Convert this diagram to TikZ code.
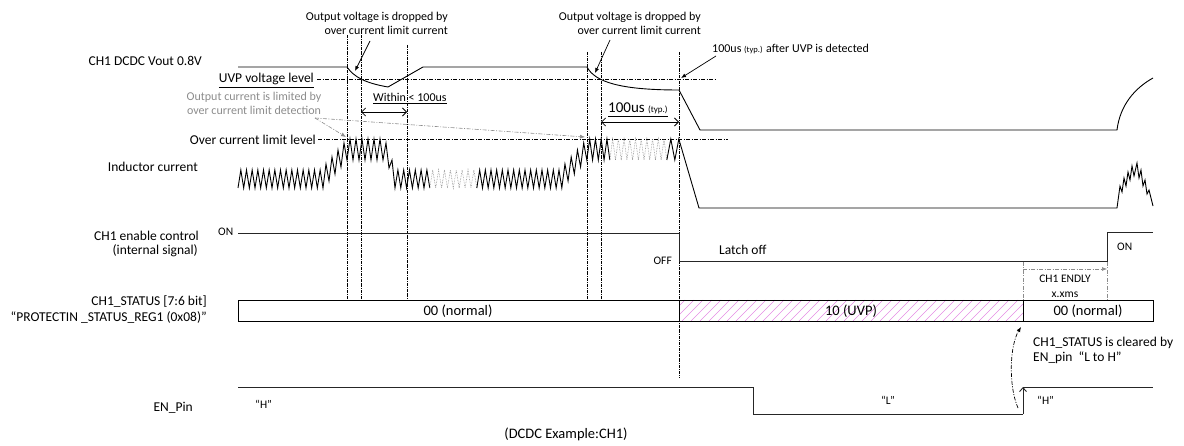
\documentclass[tikz,border=0pt]{standalone}
\usepackage{fontspec}
\setmainfont{Carlito}
\usetikzlibrary{arrows.meta}
\definecolor{hatchpink}{RGB}{228,140,228}
\tikzstyle{lbl} = [font=\fontsize{13.5}{16}\selectfont, inner sep=0pt]
\tikzstyle{notetxt} = [font=\fontsize{12}{14}\selectfont, inner sep=0pt]
\tikzstyle{tinytxt} = [font=\fontsize{11.5}{13}\selectfont, inner sep=0pt]
\tikzstyle{statustxt} = [font=\fontsize{14.5}{17}\selectfont, inner sep=0pt]
\tikzstyle{wave} = [draw, line width=0.9pt]
\tikzstyle{dimwave} = [draw=black!45, line width=0.6pt, densely dotted]
\tikzstyle{sig} = [draw, line width=0.9pt, black!85]
\tikzstyle{vguide} = [draw, line width=0.5pt, dash pattern=on 3pt off 1pt on 0.8pt off 1pt]
\tikzstyle{limitline} = [draw, line width=0.5pt, dash pattern=on 4pt off 1.5pt on 1pt off 1.5pt]
\tikzstyle{pointer} = [draw, line width=0.7pt, -{Latex[length=5pt,width=4pt]}]
\tikzstyle{spanarrow} = [draw, line width=0.8pt, {Straight Barb[length=4pt,width=8pt]}-{Straight Barb[length=4pt,width=8pt]}]
\tikzstyle{grayhint} = [draw=black!45, line width=0.6pt, dash pattern=on 4pt off 1.5pt on 1pt off 1.5pt, -{Latex[length=5pt,width=4pt]}]
\tikzstyle{graydd} = [draw=black!45, line width=0.6pt, dash pattern=on 4pt off 1.5pt on 1pt off 1.5pt]

\begin{document}
\begin{tikzpicture}[x=1pt, y=-1pt]
        \useasboundingbox (0,0) rectangle (1184,446);
        % Place nodes
        \node [lbl, anchor=base east] (vout) at (202,66) {CH1 DCDC Vout 0.8V};
        \node [lbl, anchor=base east] (uvp) at (314,83) {\underline{UVP voltage level}};
        \node [notetxt, black!45, anchor=base] (limA) at (254,101) {Output current is limited by};
        \node [notetxt, black!45, anchor=base] (limB) at (254,115) {over current limit detection};
        \node [lbl, anchor=base east] (ocl) at (316,145) {Over current limit level};
        \node [lbl, anchor=base east] (ind) at (198,172) {Inductor current};
        \node [lbl, anchor=base east] (enA) at (199,241) {CH1 enable control};
        \node [lbl, anchor=base east] (enB) at (198,255) {(internal signal)};
        \node [lbl, anchor=base east] (stA) at (207,306) {CH1\_STATUS [7:6 bit]};
        \node [lbl, anchor=base east] (stB) at (207,322) {“PROTECTIN \_STATUS\_REG1 (0x08)”};
        \node [lbl, anchor=base east] (pin) at (193,411) {EN\_Pin};
        \node [notetxt, anchor=base east] (dropA1) at (448,21) {Output voltage is dropped by};
        \node [notetxt, anchor=base east] (dropA2) at (448,35) {over current limit current};
        \node [notetxt, anchor=base east] (dropB1) at (701,21) {Output voltage is dropped by};
        \node [notetxt, anchor=base east] (dropB2) at (701,35) {over current limit current};
        \node [notetxt, anchor=base west] (uvpnote) at (712,53) {100us {\fontsize{8.5}{10}\selectfont (typ.)} after UVP is detected};
        \node [notetxt, anchor=base west] (within) at (373,102) {\underline{Within < 100us}};
        \node [anchor=base west, inner sep=0pt] (typ) at (608,113) {\fontsize{15}{17}\selectfont\underline{100us {\fontsize{9}{10}\selectfont (typ.)}}};
        \node [tinytxt, anchor=base west] (onA) at (218,236) {ON};
        \node [tinytxt, anchor=base east] (off) at (672,265) {OFF};
        \node [lbl, anchor=base west] (latch) at (719,255) {Latch off};
        \node [tinytxt, anchor=base west] (onB) at (1117,251) {ON};
        \node [tinytxt, anchor=base] (dlyA) at (1065,283) {CH1 ENDLY};
        \node [tinytxt, anchor=base] (dlyB) at (1065,298) {x.xms};
        \node [lbl, anchor=base west] (clrA) at (1033,347) {CH1\_STATUS is cleared by};
        \node [lbl, anchor=base west] (clrB) at (1033,362) {EN\_pin\ \ “L to H”};
        \node [tinytxt, anchor=base west] (pinH1) at (255,408) {“H”};
        \node [tinytxt, anchor=base] (pinL) at (888,404) {“L”};
        \node [tinytxt, anchor=base west] (pinH2) at (1037,405) {“H”};
        \node [statustxt, anchor=base] (caption) at (566,438) {(DCDC Example:CH1)};
        % Status register
        \begin{scope}
            \clip (679,300) rectangle (1023,321);
            \foreach \x in {664,673,...,1030} \draw[hatchpink, line width=0.5pt] (\x,321) -- ++(21,-21);
        \end{scope}
        \draw[line width=0.8pt] (238,300) rectangle (1153,321);
        \draw[line width=0.8pt] (679,300) -- (679,321) (1023,300) -- (1023,321);
        \node [statustxt, anchor=base] (norm1) at (458,316) {00 (normal)};
        \node [statustxt, anchor=base] (uvpst) at (851,316) {10 (UVP)};
        \node [statustxt, anchor=base] (norm2) at (1088,316) {00 (normal)};
        % Levels and guides
        \draw[limitline] (317,79) -- (717,79);
        \draw[limitline] (318,139) -- (728,139);
        \foreach \x in {347,361} \draw[vguide] (\x,35) -- (\x,300);
        \draw[vguide] (407,45) -- (407,300);
        \foreach \x in {587,601} \draw[vguide] (\x,52) -- (\x,300);
        \draw[vguide] (679,52) -- (679,378);
        % Vout
        \draw[wave] (238,67) -- (347,67) .. controls (354,77) and (365,83) .. (388,87) -- (423,67) -- (587,67)
            .. controls (595,82) and (620,90) .. (679,90) -- (700,130) -- (1117,130)
            .. controls (1120,105) and (1135,88) .. (1153,78);
        % Inductor current
        \draw[wave] (238,188)
            \foreach \i in {1,...,15} { -- ++(2.833,-18) -- ++(2.833,18) }
            \foreach \i in {1,...,4} { -- ++(3,-24) -- ++(3,17) }
            \foreach \i in {1,...,6} { -- ++(3,-21) -- ++(3,21) }
            -- ++(3,-17) -- ++(3,25) -- ++(3,-8) -- ++(3,28)
            \foreach \i in {1,...,6} { -- ++(2.9,-18) -- ++(2.9,18) } coordinate (ia);
        \draw[dimwave] (ia) \foreach \i in {1,...,8} { -- ++(2.94,-18) -- ++(2.94,18) } coordinate (ib);
        \draw[wave] (ib)
            \foreach \i in {1,...,15} { -- ++(2.833,-18) -- ++(2.833,18) }
            \foreach \i in {1,...,4} { -- ++(3.125,-24) -- ++(3.125,17) }
            \foreach \i in {1,...,4} { -- ++(2.875,-21) -- ++(2.875,21) } coordinate (ic);
        \draw[dimwave] (ic) \foreach \i in {1,...,10} { -- ++(2.85,-21) -- ++(2.85,21) } coordinate (id);
        \draw[wave] (id) -- ++(4,-21) -- ++(4,21) -- ++(4,-21) -- (699,208) -- (1117,208)
            -- (1120,186) -- (1122,192) -- (1124,178) -- (1126,186) -- (1128,172) -- (1130,180)
            -- (1132,166) -- (1134,176) -- (1137,163) -- (1139,178) -- (1141,170) -- (1143,186)
            -- (1145,180) -- (1147,194) -- (1149,190) -- (1153,206);
        % Enable control and EN pin
        \draw[sig] (238,233) -- (679,233) -- (679,261) -- (1107,261) -- (1107,232) -- (1153,232);
        \draw[sig] (238,387) -- (753,387) -- (753,414) -- (1023,414);
        \draw[sig, -{Straight Barb[length=4pt,width=7pt]}] (1023,414) -- (1023,387);
        \draw[sig] (1023,387) -- (1153,387);
        % Annotations
        \coordinate (dip1) at (355,71);
        \coordinate (dip2) at (595,73);
        \coordinate (uvphit) at (681,78);
        \coordinate (lim1) at (346,137);
        \coordinate (lim2) at (585,137);
        \draw[pointer] (370,41) -- (dip1);
        \draw[pointer] (610,40) -- (dip2);
        \draw[pointer] (716,56) -- (uvphit);
        \draw[grayhint] (315,118) -- (lim1);
        \draw[grayhint] (315,118) -- (lim2);
        \draw[spanarrow] (361,112) -- (407,112);
        \draw[spanarrow] (601,122) -- (679,122);
        \draw[graydd] (1023,262) -- (1023,300);
        \draw[graydd] (1107,262) -- (1107,300);
        \draw[grayhint] (1023,269) -- (1107,269);
        \draw[line width=0.7pt, dash pattern=on 4pt off 1.5pt on 1pt off 1.5pt, -{Latex[length=5pt,width=4pt]}]
            (1018,408) .. controls (1008,385) and (1010,345) .. (1021,327);
    \end{tikzpicture}
\end{document}
